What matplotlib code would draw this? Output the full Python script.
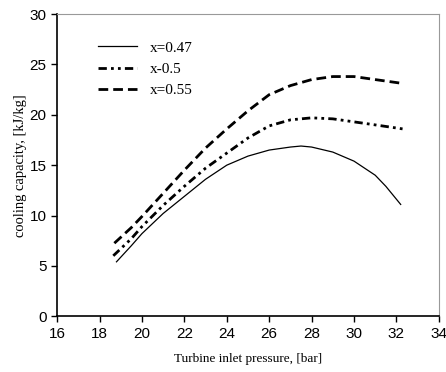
import numpy as np
import matplotlib.pyplot as plt

p_047 = [18.8, 19.5, 20.0, 21.0, 22.0, 23.0, 24.0, 25.0, 26.0, 27.0, 27.5, 28.0, 29.0, 30.0, 31.0, 31.5, 32.2]
cc_047 = [5.4, 7.0, 8.2, 10.2, 11.9, 13.6, 15.0, 15.9, 16.5, 16.8, 16.9, 16.8, 16.3, 15.4, 14.0, 12.9, 11.1]

p_050 = [18.65, 19.5, 20.0, 21.0, 22.0, 23.0, 24.0, 25.0, 26.0, 27.0, 28.0, 29.0, 30.0, 31.0, 32.3]
cc_050 = [6.0, 7.7, 8.9, 11.0, 12.9, 14.7, 16.2, 17.7, 18.9, 19.5, 19.7, 19.6, 19.3, 19.0, 18.6]

p_055 = [18.7, 19.5, 20.0, 21.0, 22.0, 23.0, 24.0, 25.0, 26.0, 27.0, 28.0, 29.0, 30.0, 31.0, 32.35]
cc_055 = [7.25, 8.8, 9.9, 12.2, 14.5, 16.7, 18.6, 20.4, 22.0, 22.9, 23.5, 23.8, 23.8, 23.5, 23.1]

labels = ["x=0.47", "x-0.5", "x=0.55"]

fig, ax = plt.subplots(figsize=(4.46, 3.72), dpi=100)
fig.subplots_adjust(left=0.128, right=0.984, top=0.962, bottom=0.15)

ax.plot(p_047, cc_047, color="black", lw=0.9, ls="-", label=labels[0])
ax.plot(p_050, cc_050, color="black", lw=2.0, ls=(0, (3, 1.5, 1, 1.5, 1, 1.5)), label=labels[1])
ax.plot(p_055, cc_055, color="black", lw=2.0, ls=(0, (3.5, 1.8)), label=labels[2])

ax.set_xlim(16, 34)
ax.set_ylim(0, 30)
ax.set_xticks(np.arange(16, 35, 2))
ax.set_yticks(np.arange(0, 31, 5))
ax.tick_params(direction="out", length=4, width=1, labelsize=11)
for t in ax.get_xticklabels() + ax.get_yticklabels():
    t.set_family("Liberation Sans")

ax.spines["left"].set_linewidth(1.2)
ax.spines["bottom"].set_linewidth(1.2)
ax.spines["top"].set_color("#999999")
ax.spines["right"].set_color("#999999")

ax.set_xlabel("Turbine inlet pressure, [bar]", family="Liberation Serif", fontsize=9.5, labelpad=9)
ax.set_ylabel("cooling capacity, [kJ/kg]", family="Liberation Serif", fontsize=10.5, labelpad=2)

leg = ax.legend(loc="upper left", bbox_to_anchor=(0.07, 0.957), frameon=False,
                prop={"family": "Liberation Serif", "size": 11},
                handlelength=2.55, handletextpad=0.85, labelspacing=0.5)

fig.savefig("out.png", dpi=100)
